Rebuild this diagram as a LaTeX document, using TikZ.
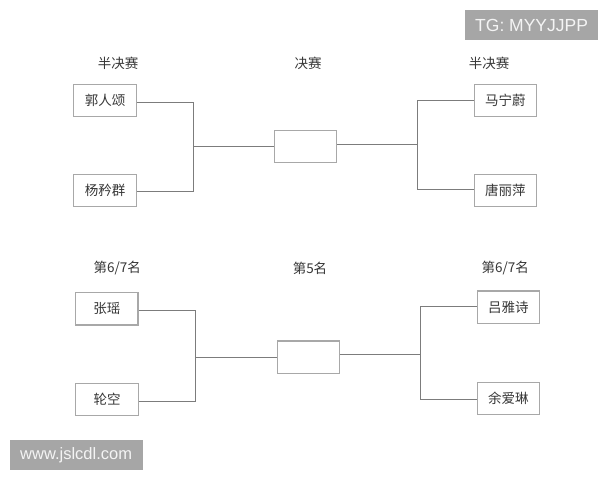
\documentclass[tikz,border=0pt]{standalone}
\usepackage{fontspec}
\setmainfont{Liberation Sans}
\newfontfamily\cjk{Noto Sans CJK SC}
\definecolor{boxline}{HTML}{A8A8A8}
\definecolor{conline}{HTML}{7C7C7C}
\definecolor{txt}{HTML}{363636}
\definecolor{wmfill}{HTML}{A6A6A6}
\definecolor{wmtext}{HTML}{F4F4F4}
\tikzset{
  namebox/.style={draw=boxline, line width=1.1pt, minimum width=62.4pt, minimum height=32.4pt, inner sep=0pt,
    font=\cjk\fontsize{13.5}{16}\selectfont, text=txt},
  roundlabel/.style={font=\cjk\fontsize{13.5}{16}\selectfont, text=txt, inner sep=0pt},
  conn/.style={draw=conline, line width=1.1pt},
  wmbox/.style={fill=wmfill, draw=none},
  wmtxt/.style={text=wmtext, inner sep=0pt, anchor=west}
}
\begin{document}
\begin{tikzpicture}[x=1pt,y=-1pt]
\useasboundingbox (0,0) rectangle (600,480);
\fill[white] (0,0) rectangle (600,480);

% watermarks
\path[wmbox] (465,10) rectangle (598,40);
\node[wmtxt, font=\fontsize{17.5}{20}\selectfont] (tg) at (475,25.5) {TG: MYYJJPP};
\path[wmbox] (10,440) rectangle (143,470);
\node[wmtxt, font=\fontsize{16.5}{19}\selectfont] (www) at (20,455.5) {www.jslcdl.com};

% ---- top bracket ----
\node[roundlabel] (lt1) at (118,63) {半决赛};
\node[roundlabel] (lt2) at (308,63) {决赛};
\node[roundlabel] (lt3) at (489,63) {半决赛};

\node[namebox] (a) at (105,100.5) {郭人颂};
\node[namebox] (b) at (105,190.5) {杨矜群};
\node[namebox] (fin) at (305.5,146.3) {};
\node[namebox] (c) at (505.3,100.5) {马宁蔚};
\node[namebox] (d) at (505.3,190.5) {唐丽萍};

\coordinate (jL) at (193.5,146.5);
\coordinate (jR) at (417.5,144.5);
\draw[conn] ([yshift=-2pt]a.east) -| (jL) |- ([yshift=-1pt]b.east);
\draw[conn] (jL) -- (jL -| fin.west);
\draw[conn] ([yshift=1.8pt]fin.east) -- (jR);
\draw[conn] (c.west) -| (jR) |- ([yshift=1pt]d.west);

% ---- bottom bracket ----
\node[roundlabel] (lb1) at (117.3,268.3) {第6/7名};
\node[roundlabel] (lb2) at (310,268.3) {第5名};
\node[roundlabel] (lb3) at (505.3,268.3) {第6/7名};

\node[namebox] (e) at (106.8,308.8) {张瑶};
\node[namebox] (f) at (107,399.7) {轮空};
\node[namebox] (fiv) at (308.3,357.2) {};
\node[namebox] (g) at (508.3,307.2) {吕雅诗};
\node[namebox] (h) at (508.3,398.7) {余爱琳};

\coordinate (kL) at (195.5,357.5);
\coordinate (kR) at (420.5,354.5);
\draw[conn] ([yshift=-1.7pt]e.east) -| (kL) |- ([yshift=-1.8pt]f.east);
\draw[conn] (kL) -- (kL -| fiv.west);
\draw[conn] ([yshift=2.7pt]fiv.east) -- (kR);
\draw[conn] ([yshift=0.7pt]g.west) -| (kR) |- ([yshift=-0.8pt]h.west);
\end{tikzpicture}
\end{document}
